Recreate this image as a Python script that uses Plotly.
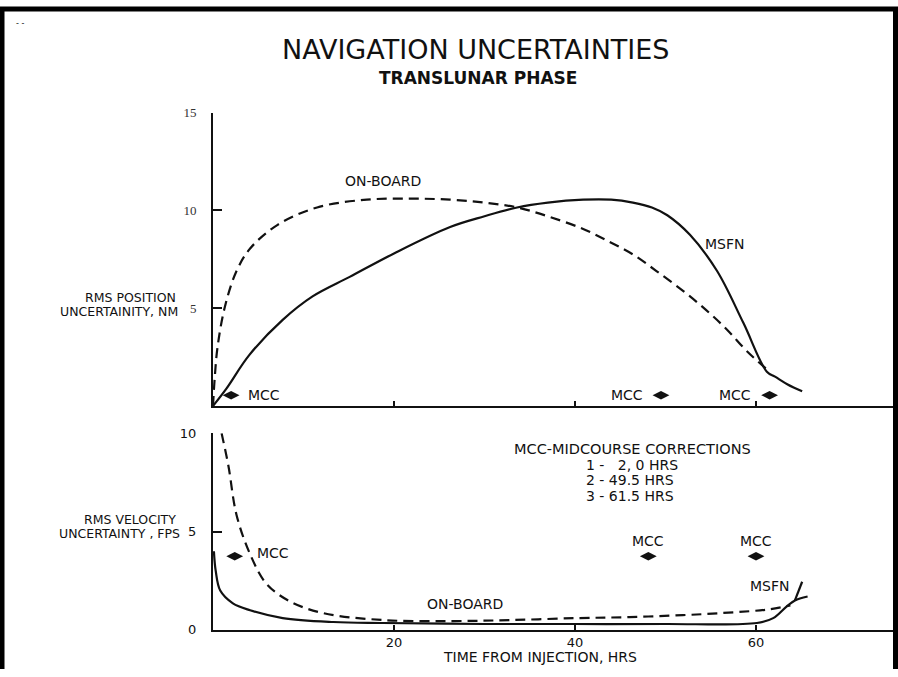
import plotly.graph_objects as go
from plotly.subplots import make_subplots

# ---------------- data ----------------
pos_time_msfn = [0, 1.5, 4, 7.7, 11, 15.1, 20, 26.2, 30, 33.6, 37, 40.9, 44, 46.4, 48.5,
                 50.2, 52.7, 55.7, 58.6, 61.2, 62.1, 63.5, 65.1]
pos_msfn = [0, 0.9, 2.6, 4.4, 5.6, 6.6, 7.8, 9.15, 9.7, 10.15, 10.4, 10.55, 10.55, 10.4, 10.15,
            9.75, 8.75, 6.9, 4.25, 1.75, 1.5, 1.1, 0.75]

pos_time_onboard = [0, 0.2, 0.5, 1.3, 2.6, 4.1, 7.1, 11.5, 17, 22, 26.2, 30, 33.6, 37, 40.9,
                    44, 46.4, 49, 51.9, 54.5, 56.8, 59, 61.5]
pos_onboard = [0, 1.5, 3.0, 5.05, 6.9, 8.05, 9.25, 10.15, 10.55, 10.6, 10.55, 10.4, 10.15, 9.7,
               9.05, 8.35, 7.75, 6.9, 5.9, 4.9, 3.9, 2.8, 1.75]

vel_time_onboard = [0.95, 1.7, 2.6, 4.1, 5.9, 8.5, 12.2, 18.8, 26.2, 33, 40.2, 46, 51.9, 56,
                    59.3, 61.5, 63.8]
vel_onboard = [10, 8.35, 5.85, 3.85, 2.35, 1.45, 0.85, 0.5, 0.45, 0.5, 0.6, 0.65, 0.75, 0.85,
               0.95, 1.05, 1.25]

vel_time_msfn = [0.1, 0.3, 0.8, 2.2, 4.1, 7.7, 13.3, 18.8, 30, 40, 50, 60.1, 61.9, 63.4, 64.3, 65.7]
vel_msfn = [4.0, 3.0, 2.0, 1.35, 1.0, 0.6, 0.4, 0.35, 0.3, 0.3, 0.3, 0.35, 0.6, 1.2, 1.5, 1.7]

msfn_leader_time = [64.3, 65.1]
msfn_leader_val = [1.5, 2.45]

mcc_time_pos = [2.0, 49.5, 61.5]
mcc_val_pos = [0.55, 0.55, 0.55]
mcc_time_vel = [2.4, 48.1, 60.0]
mcc_val_vel = [3.75, 3.75, 3.75]

pos_ticks = [5, 10, 15]
vel_ticks = [0, 5, 10]
time_ticks = [20, 40, 60]

legend_title = "MCC-MIDCOURSE CORRECTIONS"
legend_lines = ["1 -   2, 0 HRS", "2 - 49.5 HRS", "3 - 61.5 HRS"]

# ---------------- figure ----------------
W, H = 898, 677
L, R = 213, 5
plot_w = W - L - R
px_per_hr = 9.05
xmax = plot_w / px_per_hr


def py(p):  # pixel y -> paper
    return 1 - p / H


def pxp(p):  # pixel x -> paper
    return (p - L) / plot_w


fig = make_subplots(rows=2, cols=1)
ink = "#111111"
font = "DejaVu Sans"

line_solid = dict(color=ink, width=2.2)
line_dash = dict(color=ink, width=2.2, dash="10px,6px")

fig.add_trace(go.Scatter(x=pos_time_onboard, y=pos_onboard, mode="lines", line=line_dash,
                         line_shape="spline", cliponaxis=False), row=1, col=1)
fig.add_trace(go.Scatter(x=pos_time_msfn, y=pos_msfn, mode="lines", line=line_solid,
                         line_shape="spline", cliponaxis=False), row=1, col=1)
fig.add_trace(go.Scatter(x=mcc_time_pos, y=mcc_val_pos, mode="markers",
                         marker=dict(symbol="diamond-wide", size=12, color=ink),
                         cliponaxis=False), row=1, col=1)

fig.add_trace(go.Scatter(x=vel_time_onboard, y=vel_onboard, mode="lines", line=line_dash,
                         line_shape="spline", cliponaxis=False), row=2, col=1)
fig.add_trace(go.Scatter(x=vel_time_msfn, y=vel_msfn, mode="lines", line=line_solid,
                         line_shape="spline", cliponaxis=False), row=2, col=1)
fig.add_trace(go.Scatter(x=msfn_leader_time, y=msfn_leader_val, mode="lines", line=line_solid,
                         cliponaxis=False), row=2, col=1)
fig.add_trace(go.Scatter(x=mcc_time_vel, y=mcc_val_vel, mode="markers",
                         marker=dict(symbol="diamond-wide", size=12, color=ink),
                         cliponaxis=False), row=2, col=1)

axis_common = dict(showgrid=False, zeroline=False, showline=True, linecolor=ink, linewidth=2,
                   ticks="inside", tickcolor=ink, ticklen=5, tickwidth=1.5)

fig.update_xaxes(range=[0, xmax], tickvals=time_ticks, **axis_common)
fig.update_xaxes(showticklabels=False, row=1, col=1)
fig.update_xaxes(tickfont=dict(family=font, size=13, color=ink), ticklabelstandoff=0,
                 row=2, col=1)
fig.update_yaxes(**axis_common)
fig.update_yaxes(range=[0, 15], tickvals=pos_ticks, ticklen=9, ticklabelstandoff=12,
                 tickfont=dict(family="Liberation Serif", size=13, color="#333"), row=1, col=1)
fig.update_yaxes(range=[0, 10], tickvals=vel_ticks, ticklen=9, ticklabelstandoff=12,
                 tickfont=dict(family=font, size=13, color=ink), row=2, col=1)

fig.update_layout(
    xaxis=dict(domain=[0, 1]), xaxis2=dict(domain=[0, 1]),
    yaxis=dict(domain=[py(408), py(108)]),
    yaxis2=dict(domain=[py(637), py(436)]),
)

anns = []


def txt(x, y, s, size=14, bold=False, xref="paper", yref="paper", xanchor="center", fam=font):
    if bold:
        s = "<b>" + s + "</b>"
    anns.append(dict(x=x, y=y, xref=xref, yref=yref, text=s, showarrow=False,
                     xanchor=xanchor, yanchor="middle",
                     font=dict(family=fam, size=size, color=ink)))


txt(pxp(476), py(43), "NAVIGATION UNCERTAINTIES", size=27)
txt(pxp(478), py(73), "TRANSLUNAR PHASE", size=17, bold=True)
txt(pxp(178), py(297), "RMS POSITION", size=12.5, xanchor="right")
txt(pxp(180), py(311), "UNCERTAINITY, NM", size=12.5, xanchor="right")
txt(pxp(178), py(524), "RMS VELOCITY", size=12.5, xanchor="right")
txt(pxp(182), py(538), "UNCERTAINTY , FPS", size=12.5, xanchor="right")
txt(pxp(540), py(665), "TIME FROM INJECTION, HRS", size=14)
txt(pxp(20), py(17), "- -", size=8)

# curve labels (data coords)
txt(18.8, 11.5, "ON-BOARD", size=14, xref="x", yref="y")
txt(56.6, 8.3, "MSFN", size=14, xref="x", yref="y")
txt(27.8, 1.3, "ON-BOARD", size=14, xref="x2", yref="y2")
txt(61.5, 2.25, "MSFN", size=14, xref="x2", yref="y2")

# MCC labels
txt(mcc_time_pos[0] + 1.7, mcc_val_pos[0], "MCC", size=14, xref="x", yref="y", xanchor="left")
for t, v in zip(mcc_time_pos[1:], mcc_val_pos[1:]):
    txt(t - 1.8, v, "MCC", size=14, xref="x", yref="y", xanchor="right")
txt(mcc_time_vel[0] + 2.2, mcc_val_vel[0] + 0.15, "MCC", size=14, xref="x2", yref="y2", xanchor="left")
for t, v in zip(mcc_time_vel[1:], mcc_val_vel[1:]):
    txt(t, v + 0.75, "MCC", size=14, xref="x2", yref="y2")

# MCC legend block
txt(pxp(632), py(452), legend_title, size=14.5)
for s, yy in zip(legend_lines, [468, 484, 500]):
    txt(pxp(584), py(yy), s, size=14, xanchor="left")

# frame around the page
frame = dict(color="black", width=5)
shapes = [
    dict(type="line", xref="paper", yref="paper", x0=pxp(2), x1=pxp(2), y0=py(0), y1=py(H), line=frame),
    dict(type="line", xref="paper", yref="paper", x0=pxp(0), x1=pxp(W), y0=py(2), y1=py(2), line=frame),
    dict(type="line", xref="paper", yref="paper", x0=pxp(895.5), x1=pxp(895.5), y0=py(0), y1=py(H), line=frame),
]

fig.update_layout(
    width=W, height=H, showlegend=False,
    margin=dict(l=L, r=R, t=0, b=0),
    paper_bgcolor="white", plot_bgcolor="white",
    annotations=anns, shapes=shapes,
)

fig.write_html("out.html", config={"displayModeBar": False},
               post_script="document.body.style.margin='0';document.body.style.overflow='hidden';")
